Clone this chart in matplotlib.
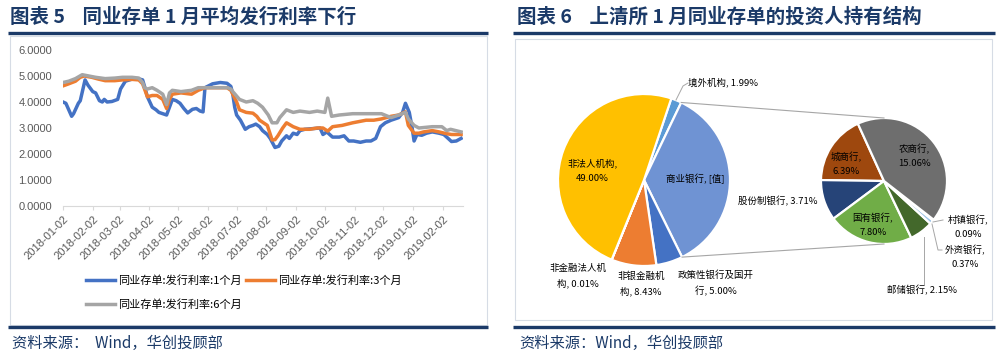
import numpy as np
import pandas as pd
import matplotlib
matplotlib.use('Agg')
import matplotlib.pyplot as plt
from matplotlib.patches import Rectangle

plt.rcParams['font.family'] = ['Noto Sans CJK SC', 'DejaVu Sans']
plt.rcParams['axes.unicode_minus'] = False

# ---- left chart: 同业存单发行利率 ----
d1 = ['2018-01-02', '2018-01-05', '2018-01-11', '2018-01-13', '2018-01-18', '2018-01-20', '2018-01-25',
      '2018-01-28', '2018-01-31', '2018-02-02', '2018-02-05', '2018-02-09', '2018-02-12', '2018-02-14',
      '2018-02-17', '2018-02-22', '2018-02-28', '2018-03-03', '2018-03-08', '2018-03-15', '2018-03-21',
      '2018-03-26', '2018-03-28', '2018-03-31', '2018-04-05', '2018-04-09', '2018-04-12', '2018-04-16',
      '2018-04-20', '2018-04-22', '2018-04-26', '2018-04-30', '2018-05-04', '2018-05-08', '2018-05-12',
      '2018-05-17', '2018-05-21', '2018-05-25', '2018-05-28', '2018-05-30', '2018-06-07', '2018-06-15',
      '2018-06-22', '2018-06-26', '2018-06-28', '2018-06-30', '2018-07-02', '2018-07-06', '2018-07-11',
      '2018-07-15', '2018-07-19', '2018-07-22', '2018-07-26', '2018-07-29', '2018-08-03', '2018-08-06',
      '2018-08-11', '2018-08-15', '2018-08-18', '2018-08-23', '2018-08-26', '2018-08-30', '2018-09-03',
      '2018-09-06', '2018-09-11', '2018-09-27', '2018-09-30', '2018-10-04', '2018-10-07', '2018-10-10',
      '2018-10-17', '2018-10-22', '2018-10-27', '2018-11-01', '2018-11-08', '2018-11-14', '2018-11-19',
      '2018-11-24', '2018-11-29', '2018-12-04', '2018-12-10', '2018-12-18', '2018-12-22', '2018-12-25',
      '2018-12-29', '2019-01-01', '2019-01-03', '2019-01-06', '2019-01-11', '2019-01-16', '2019-01-22',
      '2019-01-29', '2019-02-03', '2019-02-06', '2019-02-11', '2019-02-16', '2019-02-21']
rate_1m = [4.00, 3.95, 3.45, 3.55, 3.95, 4.05, 4.85, 4.65, 4.50, 4.40,
           4.35, 4.05, 4.00, 4.10, 4.00, 4.02, 4.10, 4.50, 4.80, 4.88,
           4.90, 4.85, 4.60, 4.20, 3.80, 3.70, 3.60, 3.55, 3.50, 3.70,
           4.10, 4.05, 3.95, 3.75, 3.58, 3.72, 3.75, 3.65, 3.62, 4.55,
           4.70, 4.75, 4.72, 4.60, 4.30, 3.80, 3.50, 3.30, 2.95, 3.05,
           3.10, 3.15, 3.05, 2.90, 2.75, 2.60, 2.25, 2.30, 2.50, 2.70,
           2.60, 2.80, 2.75, 2.90, 2.95, 3.00, 2.75, 2.85, 2.75, 2.65,
           2.65, 2.70, 2.50, 2.50, 2.45, 2.50, 2.50, 2.60, 3.05, 3.20,
           3.30, 3.40, 3.60, 3.95, 3.60, 3.00, 2.50, 2.75, 2.72, 2.80,
           2.85, 2.80, 2.75, 2.65, 2.48, 2.50, 2.60]

d3 = ['2018-01-02', '2018-01-08', '2018-01-15', '2018-01-20', '2018-01-24', '2018-02-01', '2018-02-08',
      '2018-02-15', '2018-02-25', '2018-03-05', '2018-03-15', '2018-03-22', '2018-03-26', '2018-03-28',
      '2018-03-31', '2018-04-05', '2018-04-10', '2018-04-16', '2018-04-20', '2018-04-23', '2018-04-26',
      '2018-05-05', '2018-05-16', '2018-05-23', '2018-05-30', '2018-06-22', '2018-06-26', '2018-06-28',
      '2018-07-02', '2018-07-05', '2018-07-12', '2018-07-19', '2018-07-23', '2018-07-26', '2018-08-03',
      '2018-08-08', '2018-08-11', '2018-08-14', '2018-08-19', '2018-08-23', '2018-08-30', '2018-09-06',
      '2018-09-16', '2018-09-24', '2018-09-30', '2018-10-05', '2018-10-10', '2018-10-20', '2018-10-31',
      '2018-11-07', '2018-11-14', '2018-11-22', '2018-11-30', '2018-12-10', '2018-12-18', '2018-12-25',
      '2018-12-28', '2018-12-31', '2019-01-03', '2019-01-08', '2019-01-13', '2019-01-22', '2019-01-29',
      '2019-02-06', '2019-02-11', '2019-02-21']
rate_3m = [4.62, 4.70, 4.80, 4.95, 5.00, 4.95, 4.88, 4.82, 4.82, 4.85,
           4.87, 4.85, 4.70, 4.50, 4.20, 4.25, 4.25, 4.10, 3.75, 4.10,
           4.30, 4.35, 4.30, 4.45, 4.55, 4.55, 4.45, 4.30, 4.00, 3.70,
           3.60, 3.57, 3.45, 3.30, 3.10, 2.54, 2.55, 2.70, 3.00, 3.20,
           3.05, 2.95, 2.95, 3.00, 3.00, 2.88, 3.05, 3.10, 3.20, 3.25,
           3.30, 3.30, 3.35, 3.45, 3.50, 3.62, 3.10, 2.95, 2.80, 2.80,
           2.85, 2.90, 2.85, 2.78, 2.75, 2.75]

d6 = ['2018-01-02', '2018-01-08', '2018-01-15', '2018-01-22', '2018-01-29', '2018-02-05', '2018-02-15',
      '2018-02-25', '2018-03-05', '2018-03-15', '2018-03-22', '2018-03-26', '2018-03-28', '2018-03-31',
      '2018-04-05', '2018-04-10', '2018-04-16', '2018-04-20', '2018-04-23', '2018-04-26', '2018-05-05',
      '2018-05-16', '2018-05-23', '2018-05-30', '2018-06-22', '2018-06-26', '2018-06-28', '2018-07-05',
      '2018-07-12', '2018-07-19', '2018-07-24', '2018-07-29', '2018-08-04', '2018-08-08', '2018-08-13',
      '2018-08-16', '2018-08-23', '2018-08-30', '2018-09-06', '2018-09-16', '2018-09-24', '2018-10-02',
      '2018-10-05', '2018-10-09', '2018-10-17', '2018-10-31', '2018-11-12', '2018-11-30', '2018-12-10',
      '2018-12-18', '2018-12-25', '2018-12-28', '2019-01-03', '2019-01-08', '2019-01-22', '2019-02-01',
      '2019-02-06', '2019-02-10', '2019-02-21']
rate_6m = [4.75, 4.80, 4.90, 5.05, 5.00, 4.95, 4.90, 4.92, 4.95, 4.95,
           4.92, 4.75, 4.55, 4.50, 4.55, 4.45, 4.30, 3.90, 4.35, 4.45,
           4.40, 4.45, 4.55, 4.55, 4.55, 4.50, 4.40, 4.10, 4.00, 4.05,
           3.95, 3.80, 3.50, 3.20, 3.20, 3.40, 3.70, 3.60, 3.65, 3.60,
           3.65, 3.60, 4.15, 3.45, 3.50, 3.55, 3.55, 3.55, 3.40, 3.50,
           3.60, 3.35, 3.10, 3.00, 3.05, 3.05, 2.90, 2.95, 2.85]

series_names = ['同业存单:发行利率:1个月', '同业存单:发行利率:3个月', '同业存单:发行利率:6个月']
series_colors = ['#4472C4', '#ED7D31', '#A5A5A5']

# ---- right chart: 投资人持有结构 ----
main_names = ['境外机构', '商业银行', '政策性银行及国开行', '非银金融机构', '非金融法人机构', '非法人机构']
main_share = [1.99, None, 5.00, 8.43, 0.01, 49.00]
bank_names = ['城商行', '股份制银行', '国有银行', '邮储银行', '外资银行', '村镇银行', '农商行']
bank_share = [6.39, 3.71, 7.80, 2.15, 0.37, 0.09, 15.06]

main_colors = ['#5B9BD5', '#6F93D3', '#4472C4', '#ED7D31', '#A5A5A5', '#FFC000']
bank_colors = ['#9E480E', '#264478', '#70AD47', '#43682B', '#9DC3E6', '#2F5597', '#6E6E6E']

W, H = 1002, 356
NAVY = '#1B3A68'


def Y(y):
    return H - y


fig = plt.figure(figsize=(W / 100, H / 100), dpi=100)
bg = fig.add_axes([0, 0, 1, 1])

# titles, rules, frames, sources
panels = [
    (10, 8, 488, 10, 487, 36, 325, '图表 5    同业存单 1 月平均发行利率下行', '资料来源：  Wind，华创投顾部'),
    (517, 513, 995, 515, 992, 39, 320, '图表 6    上清所 1 月同业存单的投资人持有结构', '资料来源：Wind，华创投顾部'),
]
for tx, rx0, rx1, fx0, fx1, fy0, fy1, title, src in panels:
    bg.text(tx, Y(17), title, fontsize=14, fontweight='bold', color=NAVY, va='center', ha='left')
    bg.plot([rx0, rx1], [Y(33), Y(33)], color=NAVY, lw=2.4, solid_capstyle='butt')
    bg.add_patch(Rectangle((fx0, Y(fy1)), fx1 - fx0, fy1 - fy0, fill=False, edgecolor='#D6DCE5', lw=0.8))
    bg.plot([rx0, rx1], [Y(326.5), Y(326.5)], color=NAVY, lw=2.4, solid_capstyle='butt')
    bg.text(tx + 2, Y(343), src, fontsize=11, color=NAVY, va='center', ha='left')

# main pie
vals_main = list(main_share)
vals_main[1] = round(sum(bank_share), 2)
c1, r1 = (644, Y(180)), 86
w_main, _ = bg.pie(vals_main, colors=main_colors, startangle=71.5, counterclock=False,
                   center=c1, radius=r1, frame=True,
                   wedgeprops=dict(edgecolor='white', linewidth=1.6))

# second pie (commercial banks breakdown)
c2, r2 = (884, Y(181)), 63
w_bank, _ = bg.pie(bank_share, colors=bank_colors, startangle=114.5, counterclock=True,
                   center=c2, radius=r2, frame=True,
                   wedgeprops=dict(edgecolor='white', linewidth=1.6))

# connector lines between the two pies
wb = w_main[1]
for ang, yy in [(wb.theta2, c2[1] + r2), (wb.theta1, c2[1] - r2)]:
    px = c1[0] + r1 * np.cos(np.radians(ang))
    py = c1[1] + r1 * np.sin(np.radians(ang))
    bg.plot([px, c2[0]], [py, yy], color='#A6A6A6', lw=0.8)

LAB = dict(fontsize=6.8, color='black', ha='center', va='center', linespacing=1.75)
main_fmt = ['境外机构, {:.2f}%', '商业银行, [值]', '政策性银行及国开\n行, {:.2f}%', '非银金融机\n构, {:.2f}%',
            '非金融法人机\n构, {:.2f}%', '非法人机构,\n{:.2f}%']
main_pos = [(723, 82), (695, 179), (716, 283), (641, 284), (578, 276), (592, 171)]
for fmt, v, (x, y) in zip(main_fmt, vals_main, main_pos):
    bg.text(x, Y(y), fmt.format(v), **LAB)

bank_fmt = ['城商行,\n{:.2f}%', '股份制银行, {:.2f}%', '国有银行,\n{:.2f}%', '邮储银行, {:.2f}%',
            '外资银行,\n{:.2f}%', '村镇银行,\n{:.2f}%', '农商行,\n{:.2f}%']
bank_pos = [(846, 164), (778, 201), (873, 225), (922, 290), (965, 257), (968, 227), (914, 156)]
for fmt, v, (x, y) in zip(bank_fmt, bank_share, bank_pos):
    bg.text(x, Y(y), fmt.format(v), **LAB)

# leader lines
leaders = [
    [(676, 100), (683, 86), (688, 83)],
    [(933, 222), (943, 220)],
    [(932, 224), (938, 250), (942, 250)],
    [(924, 237), (924, 285)],
]
for pts in leaders:
    bg.plot([p[0] for p in pts], [Y(p[1]) for p in pts], color='#A6A6A6', lw=0.7)

bg.set_xlim(0, W)
bg.set_ylim(0, H)
bg.set_aspect('auto')
bg.axis('off')

# ---- line chart ----
ax = fig.add_axes([63 / W, Y(206) / H, 400 / W, 156 / H])
ax.patch.set_alpha(0)
lines = []
for d, v, name, col in zip([d1, d3, d6], [rate_1m, rate_3m, rate_6m], series_names, series_colors):
    ln, = ax.plot(pd.to_datetime(d), v, color=col, lw=2.5, label=name, solid_joinstyle='round')
    lines.append(ln)

ax.set_ylim(0, 6)
ax.set_yticks(np.arange(0, 7))
ax.set_yticklabels([f'{t:.4f}' for t in np.arange(0, 7)])
ax.set_xlim(pd.Timestamp('2018-01-02'), pd.Timestamp('2019-02-23'))
tick_dates = pd.date_range('2018-01-01', periods=14, freq='MS') + pd.Timedelta(days=1)
ax.set_xticks(tick_dates)
ax.set_xticklabels([t.strftime('%Y-%m-%d') for t in tick_dates])
for s in ['top', 'right', 'left']:
    ax.spines[s].set_visible(False)
ax.spines['bottom'].set_color('#D9D9D9')
ax.tick_params(axis='y', length=0, pad=8, labelsize=8, labelcolor='#595959')
ax.tick_params(axis='x', length=3, color='#D9D9D9', pad=3, labelsize=8, labelcolor='#595959')
for lab in ax.get_xticklabels():
    lab.set_rotation(45)
    lab.set_ha('right')
    lab.set_rotation_mode('anchor')
    lab.set_fontfamily('Liberation Sans')
for lab in ax.get_yticklabels():
    lab.set_fontfamily('Liberation Sans')

order = [0, 2, 1]
ax.legend([lines[i] for i in order], [series_names[i] for i in order], ncol=2,
          loc='upper left', bbox_to_anchor=(86 / W, Y(275) / H), bbox_transform=fig.transFigure,
          frameon=False, fontsize=8, handlelength=2.6, handletextpad=0.25, columnspacing=0.4,
          borderpad=0, borderaxespad=0, labelspacing=1.25)

fig.savefig('out.png', dpi=100)
